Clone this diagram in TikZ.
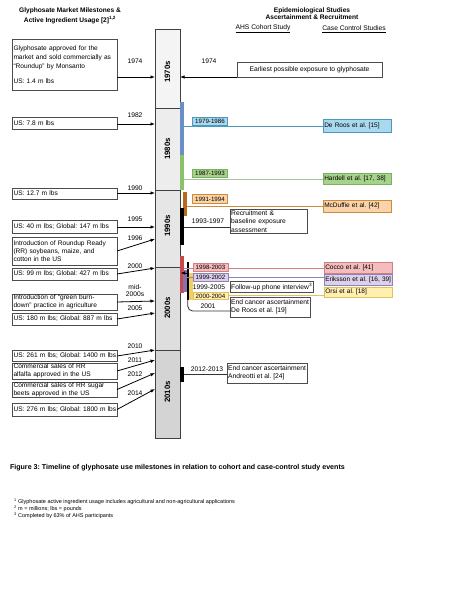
\documentclass[tikz,border=0pt]{standalone}
\usepackage{fontspec}
\setmainfont{Liberation Sans}
\usetikzlibrary{arrows.meta}
\definecolor{g70}{HTML}{F4F4F4}
\definecolor{g80}{HTML}{EDEDED}
\definecolor{g90}{HTML}{E6E6E6}
\definecolor{g00}{HTML}{DEDEDE}
\definecolor{g10}{HTML}{D4D4D4}
\definecolor{barblue}{HTML}{6A8FC7}
\definecolor{fillblue}{HTML}{A9D9EF}
\definecolor{drawblue}{HTML}{4A9AC0}
\definecolor{bargreen}{HTML}{8CC06A}
\definecolor{fillgreen}{HTML}{A6D38A}
\definecolor{drawgreen}{HTML}{7AB060}
\definecolor{linegreen}{HTML}{A8C4A0}
\definecolor{barorange}{HTML}{B86A1A}
\definecolor{fillorange}{HTML}{FAD4A8}
\definecolor{draworange}{HTML}{D08A3A}
\definecolor{barred}{HTML}{C84A4A}
\definecolor{fillred}{HTML}{F4BCBC}
\definecolor{drawred}{HTML}{D08080}
\definecolor{barpurple}{HTML}{8A70B0}
\definecolor{fillpurple}{HTML}{DCD0EA}
\definecolor{drawpurple}{HTML}{9080B8}
\definecolor{baryellow}{HTML}{F0D060}
\definecolor{fillyellow}{HTML}{FFF0B0}
\definecolor{drawyellow}{HTML}{E0C060}
\tikzset{
  txt/.style={font=\fontsize{6.7}{8.4}\selectfont, inner sep=0pt, outer sep=0pt},
  mbox/.style={font=\fontsize{6.6}{8.2}\selectfont, outer sep=0pt, draw=black!70, line width=0.8pt,
    text width=102pt, align=left, inner xsep=1.5pt, inner ysep=0pt, minimum width=105pt},
  arr/.style={line width=0.8pt, -{Latex[length=4.5pt,width=3.5pt]}},
  yr/.style={txt},
  decbox/.style={draw=black!75, line width=0.8pt, minimum width=25pt, inner sep=0pt, outer sep=0pt},
  declab/.style={font=\fontsize{7.8}{9}\selectfont\bfseries, rotate=90, inner sep=0pt},
  per/.style={font=\fontsize{6.2}{7}\selectfont, inner sep=0pt, line width=0.6pt,
    minimum width=35pt, minimum height=8pt},
  study/.style={font=\fontsize{6.5}{8}\selectfont, inner xsep=1pt, inner ysep=0pt, line width=0.6pt,
    minimum width=68pt, text width=66pt, align=left, anchor=west},
  ebox/.style={txt, draw=black!70, line width=0.8pt, align=left, inner xsep=1.2pt, inner ysep=1pt, anchor=west},
  conn/.style={line width=0.8pt},
}
\begin{document}
\frenchspacing
\begin{tikzpicture}[x=1pt,y=-1pt]
\useasboundingbox (0,0) rectangle (471,610);
\fill[white] (0,0) rectangle (471,610);

% headings
\node[txt, font=\fontsize{6.6}{10}\selectfont\bfseries, align=center] (hl) at (70,16)
  {Glyphosate Market Milestones \&\\Active Ingredient Usage [2]\textsuperscript{1,2}};
\node[txt, font=\fontsize{6.6}{7}\selectfont\bfseries, align=center] (hr) at (312,13.5)
  {Epidemiological Studies\\Ascertainment \& Recruitment};
\node[txt] (hc) at (263,29) {\underline{AHS Cohort Study}};
\node[txt] (hcc) at (354,29) {\underline{Case Control Studies}};

% timeline column
\node[decbox, fill=g70, minimum height=79pt] (d70) at (167.5,68.5) {};
\node[decbox, fill=g80, minimum height=82pt] (d80) at (167.5,149) {};
\node[decbox, fill=g90, minimum height=77pt] (d90) at (167.5,228.5) {};
\node[decbox, fill=g00, minimum height=83pt] (d00) at (167.5,308.5) {};
\node[decbox, fill=g10, minimum height=88pt] (d10) at (167.5,394) {};
\node[declab] (t70) at (167.5,72) {1970s};
\node[declab] (t80) at (167.5,149) {1980s};
\node[declab] (t90) at (167.5,226) {1990s};
\node[declab] (t00) at (167.5,308) {2000s};
\node[declab] (t10) at (167.5,392) {2010s};

% left boxes
\node[mbox, minimum height=51pt] (b1) at (64.5,64.5)
  {\fontsize{6.6}{9}\selectfont Glyphosate approved for the\\market and sold commercially as\\“Roundup” by Monsanto\\[7pt]US: 1.4 m lbs};
\node[mbox, minimum height=12pt] (b2) at (64.5,123) {US: 7.8 m lbs};
\node[mbox, minimum height=11pt] (b3) at (64.5,193.5) {US: 12.7 m lbs};
\node[mbox, minimum height=13pt] (b4) at (64.5,227) {\mbox{US: 40 m lbs; Global: 147 m lbs}};
\node[mbox, minimum height=28pt] (b5) at (64.5,251) {Introduction of Roundup Ready\\(RR) soybeans, maize, and\\cotton in the US};
\node[mbox, minimum height=12pt] (b6) at (64.5,274) {\mbox{US: 99 m lbs; Global: 427 m lbs}};
\node[mbox, minimum height=16pt] (b7) at (64.5,302) {Introduction of “green burn-\\down” practice in agriculture};
\node[mbox, minimum height=12pt] (b8) at (64.5,319) {\mbox{US: 180 m lbs; Global: 887 m lbs}};
\node[mbox, minimum height=11pt] (b9) at (64.5,356) {\mbox{US: 261 m lbs; Global: 1400 m lbs}};
\node[mbox, minimum height=16pt] (b10) at (64.5,371) {Commercial sales of RR\\alfalfa approved in the US};
\node[mbox, minimum height=15pt] (b11) at (64.5,389.5) {Commercial sales of RR sugar\\beets approved in the US};
\node[mbox, minimum height=13pt] (b12) at (64.5,409.5) {\mbox{US: 276 m lbs; Global: 1800 m lbs}};

% arrow end points on the column
\coordinate (L74) at (155,77);
\coordinate (L82) at (155,124);
\coordinate (L90) at (155,193);
\coordinate (L95) at (155,227);
\coordinate (L96) at (155,239);
\coordinate (L00) at (155,268);
\coordinate (Lmid) at (155,301);
\coordinate (L05) at (155,313);
\coordinate (L10) at (155,350);
\coordinate (L11) at (155,360);
\coordinate (L12) at (155,373);
\coordinate (L14) at (155,389);

\draw[arr] (b1.east |- L74) -- (L74);
\draw[arr] (b2.east |- L82) -- (L82);
\draw[arr] (b3.east |- L90) -- (L90);
\draw[arr] (b4.east |- L95) -- (L95);
\draw[arr] (b5.east) -- (L96);
\draw[arr] (b6.east) -- (L00);
\draw[arr] (b7.east) -- (Lmid);
\draw[arr] (b8.east) -- (L05);
\draw[arr] (b9.east) -- (L10);
\draw[arr] (b10.east) -- (L11);
\draw[arr] (b11.east) -- (L12);
\draw[arr] (b12.east) -- (L14);

\node[yr] (y74) at (135,61) {1974};
\node[yr] (y82) at (135,115) {1982};
\node[yr] (y90) at (135,188) {1990};
\node[yr] (y95) at (135,219) {1995};
\node[yr] (y96) at (135,238) {1996};
\node[yr] (y00) at (135,266) {2000};
\node[yr, align=center, font=\fontsize{6.7}{6.8}\selectfont] (ymid) at (135,291) {mid-\\2000s};
\node[yr] (y05) at (135,308) {2005};
\node[yr] (y10) at (135,346) {2010};
\node[yr] (y11) at (135,360) {2011};
\node[yr] (y12) at (135,374) {2012};
\node[yr] (y14) at (135,393) {2014};

% right side: earliest exposure
\node[txt, draw=black!70, line width=0.8pt, minimum width=145pt, minimum height=15pt] (early) at (309.5,70) {Earliest possible exposure to glyphosate};
\coordinate (R74) at (180,77);
\node[yr] (r74) at (209,61) {1974};
\draw[arr] (early.west |- R74) -- (R74);

% study period bars
\fill[barblue] (180,102) rectangle (183.5,155);
\fill[bargreen] (180,155) rectangle (183.5,190);
\fill[barorange] (183,192) rectangle (186.5,216);
\fill[black] (180,208) rectangle (183.5,245);
\fill[barred] (180,256) rectangle (184,293);
\fill[barpurple] (183,270) rectangle (186.5,292);
\fill[black] (186.5,262) rectangle (189,300);
\fill[baryellow] (189,273) rectangle (192.5,300);
\fill[black] (180,367) rectangle (184,382);

% case-control study boxes
\node[study, draw=drawblue, fill=fillblue, minimum height=13pt] (deroos15) at (323,126) {De Roos et al. [15]};
\node[study, draw=drawgreen, fill=fillgreen, minimum height=11pt] (hardell) at (323,178.5) {Hardell et al. [17, 38]};
\node[study, draw=draworange, fill=fillorange, minimum height=12pt] (mcduffie) at (323,206) {McDuffie et al. [42]};
\node[study, draw=drawred, fill=fillred, minimum height=11pt] (cocco) at (324,267.5) {Cocco et al. [41]};
\node[study, draw=drawpurple, fill=fillpurple, minimum height=11pt] (eriksson) at (324,279.5) {Eriksson et al. [16, 39]};
\node[study, draw=drawyellow, fill=fillyellow, minimum height=10pt] (orsi) at (324,292) {Orsi et al. [18]};

% cohort boxes
\node[ebox, text width=75pt, minimum height=23pt] (recruit) at (230,221.5) {Recruitment \&\\baseline exposure\\assessment};
\node[ebox, minimum height=11pt] (follow) at (230,287) {Follow-up phone interview\textsuperscript{3}};
\node[ebox, minimum height=20pt] (endc1) at (230,307) {End cancer ascertainment\\De Roos et al. [19]};
\node[ebox, minimum height=20pt] (endc2) at (227,373) {End cancer ascertainment\\Andreotti et al. [24]};

% connectors from bars
\coordinate (sBlue) at (183.5,126);
\coordinate (sGreen) at (183.5,179);
\coordinate (sOrange) at (186.5,206);
\coordinate (s9397) at (183.5,227);
\coordinate (sRed) at (184,268);
\coordinate (sPurple) at (186.5,277);
\coordinate (sYellow) at (192.5,295);
\coordinate (s01) at (187.7,299);
\coordinate (e01) at (230,311);
\coordinate (s1213) at (184,374);

\draw[conn, drawblue] (sBlue) -- (deroos15.west |- sBlue);
\draw[conn, linegreen] (sGreen) -- (hardell.west |- sGreen);
\draw[conn, draworange] (sOrange) -- (mcduffie.west |- sOrange);
\draw[conn, black!80] (s9397) -- (recruit.west |- s9397);
\draw[conn, drawred] (sRed) -- (cocco.west |- sRed);
\draw[conn, drawpurple] (sPurple) -- (eriksson.west |- sPurple);
\draw[conn, drawyellow] (sYellow) -- (orsi.west |- sYellow);
\draw[conn, black!80, rounded corners=5pt] (s01) |- (e01);
\draw[conn, black!80] (s1213) -- (endc2.west |- s1213);
\draw[arr] (186.5,273) -- (180.5,273);

% period labels
\node[per, draw=drawblue, fill=fillblue] (p1) at (210,121) {1979-1986};
\node[per, draw=drawgreen, fill=fillgreen] (p2) at (210,173) {1987-1993};
\node[per, draw=draworange, fill=fillorange, minimum height=9pt] (p3) at (210,199) {1991-1994};
\node[txt] (p4) at (208,221) {1993-1997};
\node[per, draw=drawred, fill=fillred] (p5) at (210.5,267) {1998-2003};
\node[per, draw=drawpurple, fill=fillpurple] (p6) at (210.5,277) {1999-2002};
\node[txt] (p7) at (209,287) {1999-2005};
\node[per, draw=drawyellow, fill=fillyellow, minimum height=7pt] (p8) at (210.5,296) {2000-2004};
\node[txt] (p9) at (208,306) {2001};
\node[txt] (p10) at (207,369.5) {2012-2013};

% caption and footnotes
\node[txt, font=\fontsize{7.1}{8}\selectfont\bfseries, anchor=west] (cap) at (10,468)
  {Figure 3: Timeline of glyphosate use milestones in relation to cohort and case-control study events};
\node[txt, font=\fontsize{5.5}{7}\selectfont, anchor=north west, align=left] (fn) at (14,499)
  {\textsuperscript{1} Glyphosate active ingredient usage includes agricultural and non-agricultural applications\\
   \textsuperscript{2} m = millions; lbs = pounds\\
   \textsuperscript{3} Completed by 63\% of AHS participants};
\end{tikzpicture}
\end{document}
